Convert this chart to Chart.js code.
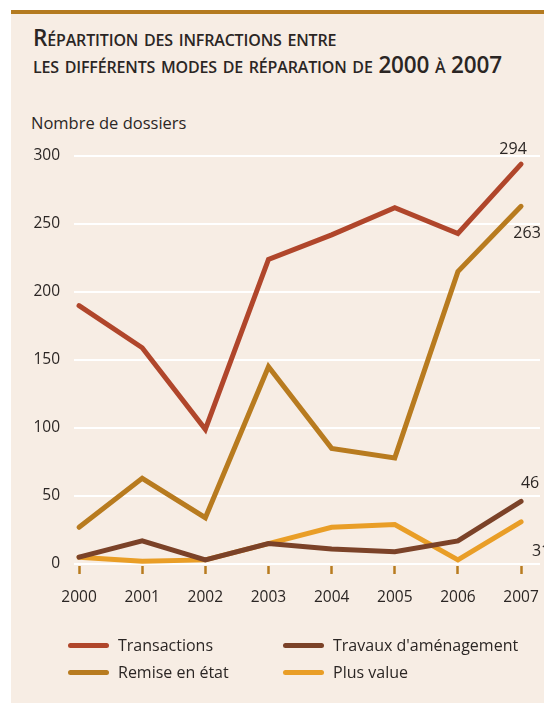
<!DOCTYPE html>
<html lang="fr">
<head>
<meta charset="utf-8">
<script src="https://cdn.jsdelivr.net/npm/chart.js@4/dist/chart.umd.min.js"></script>
<style>
  html, body { margin:0; padding:0; background:#ffffff; }
  body { width:544px; height:703px; position:relative; overflow:hidden; font-family:"Open Sans", sans-serif; }
  #panel { position:absolute; left:11px; top:10px; width:533px; height:693px; background:#f7ede4; border-top:4px solid #b47a1f; box-sizing:border-box; }
  #title { position:absolute; left:33px; top:24px; margin:0; font-family:"Open Sans", sans-serif; font-weight:600; font-size:22.5px; line-height:27px; font-variant:small-caps; color:#2b2624; letter-spacing:-0.15px; white-space:nowrap; }
  #ylab { position:absolute; left:31px; top:111px; font-size:16.5px; color:#2b2624; white-space:nowrap; }
  #chartwrap { position:absolute; left:0; top:0; width:544px; height:703px; }
  #legend { position:absolute; left:68px; top:633px; width:470px; font-size:16px; color:#2b2624; }
  .li { position:absolute; height:24px; line-height:24px; white-space:nowrap; }
  .sw { position:absolute; left:0; top:10px; width:41px; height:5px; border-radius:3px; }
  .tx { position:absolute; left:50px; top:0; }
</style>
</head>
<body>
<div id="panel"></div>
<div id="title">Répartition des infractions entre<br>les différents modes de réparation de 2000 à 2007</div>
<div id="ylab">Nombre de dossiers</div>
<div id="chartwrap"><canvas id="c" width="544" height="703"></canvas></div>
<div id="legend"></div>
<script>
// ---- data ----
const years = [2000, 2001, 2002, 2003, 2004, 2005, 2006, 2007];
const transactions = [190, 159, 99, 224, 242, 262, 243, 294];
const remiseEnEtat = [27, 63, 34, 145, 85, 78, 215, 263];
const travauxAmenagement = [5, 17, 3, 15, 11, 9, 17, 46];
const plusValue = [5, 2, 3, 15, 27, 29, 3, 31];
const yTicks = [0, 50, 100, 150, 200, 250, 300];
const seriesNames = ["Transactions", "Travaux d'aménagement", "Remise en état", "Plus value"];
const endLabels = ["294", "46", "263", "31"];

// ---- styles ----
const colors = ["#b0462b", "#7b4228", "#b87b1f", "#e99e27"];
const labelOffsets = [[-8, -10, 'center', 'alphabetic'], [9, -13, 'center', 'alphabetic'], [6, 32, 'center', 'alphabetic'], [20, 34, 'center', 'alphabetic']];
const seriesData = [transactions, travauxAmenagement, remiseEnEtat, plusValue];
const drawOrder = [2, 0, 1, 3];

const datasets = drawOrder.map(i => ({
  label: seriesNames[i],
  data: years.map((y, k) => ({ x: y, y: seriesData[i][k] })),
  borderColor: colors[i],
  backgroundColor: colors[i],
  borderWidth: 5,
  pointRadius: 0,
  pointHoverRadius: 0,
  tension: 0,
  borderCapStyle: 'round',
  borderJoinStyle: 'miter',
  fill: false,
  clip: false,
  _idx: i
}));

const endLabelPlugin = {
  id: 'endLabels',
  afterDatasetsDraw(chart) {
    const ctx = chart.ctx;
    const xs = chart.scales.x, ys = chart.scales.y;
    ctx.save();
    ctx.font = '16px "Open Sans", sans-serif';
    ctx.fillStyle = '#2b2624';
    chart.data.datasets.forEach(ds => {
      const i = ds._idx;
      const last = ds.data[ds.data.length - 1];
      const px = xs.getPixelForValue(last.x), py = ys.getPixelForValue(last.y);
      const o = labelOffsets[i];
      ctx.textAlign = o[2];
      ctx.textBaseline = o[3];
      ctx.fillText(endLabels[i], px + o[0], py + o[1]);
    });
    ctx.restore();
  }
};

new Chart(document.getElementById('c'), {
  type: 'line',
  data: { datasets },
  options: {
    responsive: false,
    animation: false,
    events: [],
    layout: { padding: { left: 0, right: 4, top: 156, bottom: 97 } },
    plugins: { legend: { display: false }, title: { display: false }, tooltip: { enabled: false } },
    scales: {
      x: {
        type: 'linear',
        min: 1999.92,
        max: 2007.3,
        afterBuildTicks: s => { s.ticks = years.map(v => ({ value: v })); },
        afterFit: s => { s.height = 40; s.paddingLeft = 0; s.paddingRight = 0; },
        grid: { display: true, drawOnChartArea: false, drawTicks: true, tickLength: 8, tickColor: '#b87b1f', tickWidth: 2.5 },
        border: { display: false },
        ticks: { padding: 14, color: '#2b2624', font: { family: 'Open Sans', size: 15.5 }, callback: v => String(v), maxRotation: 0, autoSkip: false }
      },
      y: {
        type: 'linear',
        min: -1.5,
        max: 300,
        afterBuildTicks: s => { s.ticks = yTicks.map(v => ({ value: v })); },
        afterFit: s => { s.width = 74; s.paddingTop = 0; s.paddingBottom = 0; },
        grid: { color: '#ffffff', lineWidth: 2, drawTicks: false },
        border: { display: false },
        ticks: { padding: 14, color: '#2b2624', font: { family: 'Open Sans', size: 15.5 } }
      }
    }
  },
  plugins: [endLabelPlugin]
});

// HTML legend from the series arrays (2 x 2 grid)
const legend = document.getElementById('legend');
const legendOrder = [0, 1, 2, 3];
legendOrder.forEach((i, k) => {
  const col = k % 2, row = Math.floor(k / 2);
  const d = document.createElement('div');
  d.className = 'li';
  d.style.left = (col * 215) + 'px';
  d.style.top = (row * 27) + 'px';
  d.innerHTML = '<span class="sw" style="background:' + colors[i] + '"></span><span class="tx"></span>';
  d.querySelector('.tx').textContent = seriesNames[i];
  legend.appendChild(d);
});
</script>
</body>
</html>
